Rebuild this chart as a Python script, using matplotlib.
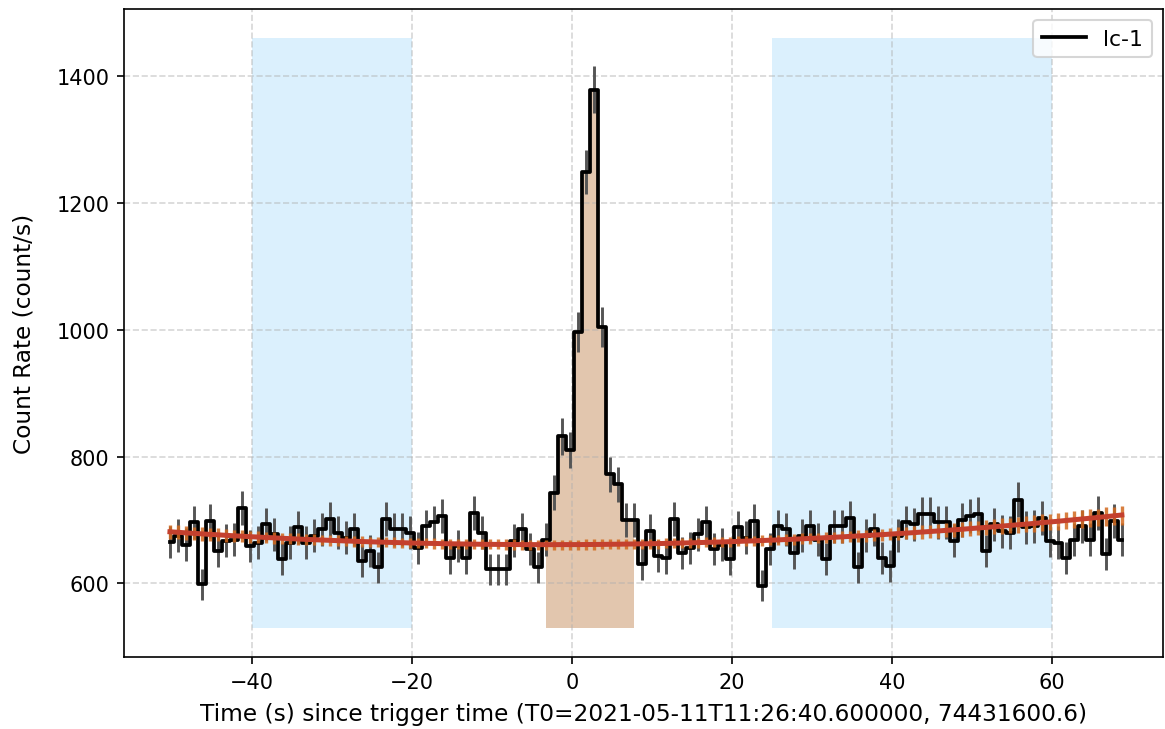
import numpy as np
import matplotlib
matplotlib.use("Agg")
from matplotlib import pyplot as plt

# bin centres (s since T0), 1 s bins
t_start = -50.25
n_bins = 120
time = t_start + np.arange(n_bins)

# light curve, count/s
rate = [665, 675, 661, 696, 598, 698, 651, 667, 669, 719,
        659, 664, 693, 677, 638, 664, 688, 664, 675, 685,
        701, 680, 672, 685, 635, 651, 625, 701, 685, 685,
        680, 656, 690, 696, 706, 640, 659, 640, 711, 680,
        622, 622, 622, 667, 685, 654, 625, 669, 743, 832,
        811, 997, 1249, 1379, 1005, 772, 756, 700, 700, 630,
        683, 643, 640, 701, 648, 656, 677, 696, 654, 661,
        638, 688, 672, 698, 596, 654, 690, 685, 648, 675,
        690, 669, 638, 690, 690, 703, 625, 675, 685, 640,
        627, 675, 696, 693, 709, 709, 696, 696, 667, 700,
        706, 709, 651, 693, 682, 680, 732, 688, 690, 703,
        667, 664, 640, 669, 690, 669, 711, 646, 698, 669]

rate_err = [25.8, 26.0, 25.7, 26.4, 24.5, 26.4, 25.5, 25.8, 25.9, 26.8,
            25.7, 25.8, 26.3, 26.0, 25.3, 25.8, 26.2, 25.8, 26.0, 26.2,
            26.5, 26.1, 25.9, 26.2, 25.2, 25.5, 25.0, 26.5, 26.2, 26.2,
            26.1, 25.6, 26.3, 26.4, 26.6, 25.3, 25.7, 25.3, 26.7, 26.1,
            24.9, 24.9, 24.9, 25.8, 26.2, 25.6, 25.0, 25.9, 27.3, 28.8,
            28.5, 31.6, 35.3, 37.1, 31.7, 27.8, 27.5, 26.5, 26.5, 25.1,
            26.1, 25.4, 25.3, 26.5, 25.5, 25.6, 26.0, 26.4, 25.6, 25.7,
            25.3, 26.2, 25.9, 26.4, 24.4, 25.6, 26.3, 26.2, 25.5, 26.0,
            26.3, 25.9, 25.3, 26.3, 26.3, 26.5, 25.0, 26.0, 26.2, 25.3,
            25.0, 26.0, 26.4, 26.3, 26.6, 26.6, 26.4, 26.4, 25.8, 26.5,
            26.6, 26.6, 25.5, 26.3, 26.1, 26.1, 27.1, 26.2, 26.3, 26.5,
            25.8, 25.8, 25.3, 25.9, 26.3, 25.9, 26.7, 25.4, 26.4, 25.9]

# background fit, count/s
bkg = [681.2, 680.4, 679.5, 678.7, 677.9, 677.1, 676.4, 675.6, 674.9, 674.2,
       673.5, 672.9, 672.2, 671.6, 671.0, 670.4, 669.8, 669.2, 668.7, 668.2,
       667.7, 667.2, 666.7, 666.3, 665.8, 665.4, 665.0, 664.7, 664.3, 664.0,
       663.6, 663.3, 663.0, 662.8, 662.5, 662.3, 662.1, 661.9, 661.7, 661.5,
       661.4, 661.3, 661.2, 661.1, 661.0, 661.0, 660.9, 660.9, 660.9, 661.0,
       661.0, 661.0, 661.1, 661.2, 661.3, 661.5, 661.6, 661.8, 662.0, 662.2,
       662.4, 662.6, 662.9, 663.2, 663.5, 663.8, 664.1, 664.5, 664.8, 665.2,
       665.6, 666.0, 666.5, 666.9, 667.4, 667.9, 668.4, 669.0, 669.5, 670.1,
       670.7, 671.3, 671.9, 672.5, 673.2, 673.9, 674.6, 675.3, 676.0, 676.7,
       677.5, 678.3, 679.1, 679.9, 680.8, 681.6, 682.5, 683.4, 684.3, 685.2,
       686.2, 687.2, 688.1, 689.1, 690.2, 691.2, 692.3, 693.3, 694.4, 695.6,
       696.7, 697.8, 699.0, 700.2, 701.4, 702.6, 703.8, 705.1, 706.4, 707.7]

bkg_err = [11, 11, 10.5, 10.5, 10.5, 10, 10, 10, 9.5, 9.5,
           9.5, 9.5, 9, 9, 9, 9, 9, 8.5, 8.5, 8.5,
           8.5, 8.5, 8.5, 8.5, 8, 8, 8, 8, 8, 8,
           8, 8, 8, 8, 8, 8, 8, 8, 8, 8,
           8, 8, 8, 8, 8, 8, 8, 8, 8, 8,
           8, 8, 8, 8, 8, 8, 8, 8, 8, 8,
           8, 8, 8, 8, 8, 8, 8, 8, 8, 8,
           8, 8, 8, 8, 8, 8, 8, 8, 8.5, 8.5,
           8.5, 8.5, 8.5, 9, 9, 9, 9, 9.5, 9.5, 9.5,
           10, 10, 10, 10.5, 10.5, 10.5, 11, 11, 11, 11.5,
           11.5, 11.5, 12, 12, 12, 12.5, 12.5, 12.5, 13, 13,
           13, 13, 13.5, 13.5, 13.5, 14, 14, 14.5, 14.5, 15]

bkg_intervals = [(-40, -20), (25, 60)]
src_first, src_last = 47, 58   # bins inside the source interval
shade_low, shade_high = 530, 1460

fig = plt.figure(figsize=(1165 / 150, 730 / 150), dpi=150)
ax = fig.add_axes([0.1064, 0.0986, 0.8919, 0.8877])

for lo, hi in bkg_intervals:
    ax.fill_between([lo, hi], shade_low, shade_high, color='#dbf0fd', lw=0, zorder=0.5)

sel = slice(src_first, src_last + 1)
ax.fill_between(time[sel], rate[sel], shade_low, step='mid',
                color='#e2c6ae', lw=0, zorder=0.6)

ax.errorbar(time, rate, yerr=rate_err, fmt='none', ecolor='#555555', elinewidth=1.4, zorder=2)
ax.step(time, rate, where='mid', color='black', lw=1.8, label='lc-1', zorder=2.5)

ax.errorbar(time, bkg, yerr=bkg_err, fmt='none', ecolor='#d2691e', elinewidth=1.6,
            alpha=0.85, zorder=3)
ax.plot(time, bkg, color='#c4402e', lw=2.4, zorder=3.5)

ax.set_xlim(-56.0, 73.9)
ax.set_ylim(483.5, 1506.5)
ax.grid(True, ls='--', color='#b0b0b0', alpha=0.5)
ax.set_xlabel('Time (s) since trigger time (T0=2021-05-11T11:26:40.600000, 74431600.6)',
              fontsize=11.2, labelpad=5)
ax.set_ylabel('Count Rate (count/s)', fontsize=11.2, labelpad=10)
ax.legend(loc='upper right', fontsize=10.5)

fig.savefig('out.png', dpi=150)
